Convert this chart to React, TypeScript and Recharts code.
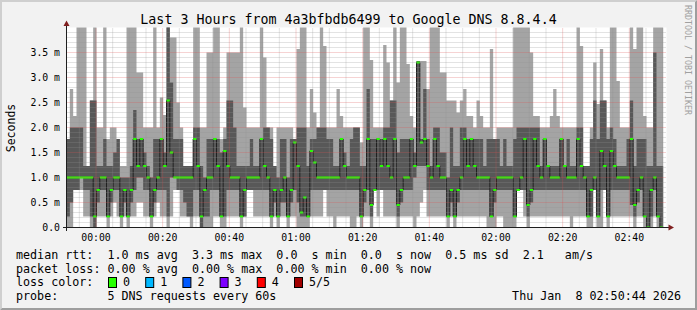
import React from "react";
import {
  ComposedChart,
  Area,
  XAxis,
  YAxis,
  CartesianGrid,
  ReferenceLine,
} from "recharts";

// rtt per 1 minute step, in milliseconds (5 pings sorted: min, 2nd, median, 4th, max)
const medianRtt = [
  1.0, 1.0, 1.0, 1.0, 1.0, 1.0, 1.0, 1.0, 0.22, 0.75, 1.0, 1.0, 0.22, 0.75, 1.0, 1.0, 0.22, 0.75, 0.22, 0.75,
  1.77, 1.23, 1.77, 1.23, 1.0, 0.22, 0.75, 1.0, 1.77, 1.23,
  2.54, 1.5, 1.0, 1.0, 1.0, 1.0, 1.0, 1.0, 1.77, 1.23, 0.22, 0.75, 1.0, 1.0, 1.77, 1.23, 0.22, 1.53, 1.23, 1.0,
  1.0, 1.0, 0.22, 0.75, 1.0, 1.0, 1.0, 1.0, 1.77, 1.23,
  1.0, 0.22, 0.75, 0.22, 0.75, 1.0, 0.22, 0.75, 1.7, 1.23, 0.3, 0.6, 0.22, 1.53, 1.3, 1.0, 1.0, 1.0, 1.0, 1.0,
  1.0, 1.0, 1.77, 1.23, 1.0, 1.0, 1.0, 1.0, 0.22, 0.75,
  1.77, 0.45, 0.75, 1.77, 1.23, 1.77, 1.23, 1.0, 1.77, 0.45, 0.75, 1.0, 1.0, 1.77, 1.23, 3.3, 1.7, 1.77, 1.23, 1.0,
  1.77, 1.23, 1.0, 1.0, 0.22, 0.75, 0.22, 0.75, 1.0, 1.77,
  1.23, 1.77, 1.23, 1.0, 1.0, 1.0, 1.0, 0.22, 0.75, 1.0, 1.0, 1.0, 1.0, 1.0, 0.22, 0.75, 1.0, 1.77, 0.45, 0.75,
  1.77, 1.23, 1.0, 1.77, 1.23, 1.0, 1.0, 1.0, 1.77, 1.23,
  1.0, 1.0, 1.0, 1.77, 1.23, 1.0, 0.22, 0.75, 1.0, 0.22, 1.53, 1.23, 0.22, 1.53, 1.23, 1.0, 1.0, 1.0, 1.0, 1.77,
  0.45, 0.75, 1.0, 0.22, 0.0, 0.75, 1.0, 0.22, 0.0,
];

const pingMin = [
  0, 0, 0.75, 0.75, 0.75, 0.22, 0.22, 0, 0, 0.22, 0.22, 0.22, 0, 0.22, 0.5, 0.22, 0, 0.22, 0, 0.22,
  0.22, 0.5, 0.5, 0.22, 0.22, 0, 0.22, 0.5, 0.22, 0.22,
  0, 0.22, 0.75, 0.75, 0.22, 0.22, 0.22, 0, 0.22, 0.22, 0, 0, 0, 0, 0.22, 0.22, 0, 0, 0.22, 0.22,
  0.22, 0.22, 0, 0.22, 0.75, 0.75, 0.22, 0.22, 0.22, 0.22,
  0.22, 0, 0.22, 0, 0.22, 0.22, 0, 0.22, 0.22, 0, 0, 0, 0, 0.22, 0.22, 0.22, 0.22, 0.75, 0.22, 0.22,
  0, 0.22, 0.22, 0.22, 0.22, 0, 0, 0.22, 0, 0.22,
  0.22, 0, 0.75, 0.22, 0.75, 0.22, 0.22, 0.22, 0.22, 0, 0.22, 0.22, 0.22, 0.22, 0, 0.22, 0.5, 0.75, 0.22, 0.22,
  0.22, 0.22, 0.22, 0.22, 0, 0.22, 0, 0.22, 0.22, 0.22,
  0.22, 0.22, 0.22, 0.22, 0.22, 0.22, 0, 0, 0, 0.22, 0.22, 0, 0, 0, 0, 0.75, 0.75, 0.22, 0, 0.22,
  0.22, 0.22, 0.22, 0.22, 0.22, 0.22, 0.22, 0.22, 0.22, 0.22,
  0.22, 0, 0.22, 0.22, 0.22, 0.22, 0, 0, 0.75, 0, 0, 0.75, 0, 0.22, 0.22, 0.22, 0.22, 0.22, 0.22, 0.22,
  0, 0.22, 0.22, 0, 0, 0, 0.22, 0, 0,
];

const pingLow = [
  0.22, 0.5, 0.75, 0.75, 1.0, 0.75, 0.75, 0.22, 0, 0.5, 0.75, 0.75, 0.22, 0.5, 0.75, 0.75, 0.22, 0.5, 0.22, 0.5,
  0.75, 1.0, 1.0, 0.75, 0.75, 0.22, 0.5, 0.75, 0.75, 0.75,
  0.22, 1.0, 1.0, 0.75, 0.75, 0.5, 0.22, 0.22, 0.75, 0.75, 0, 0.22, 0.22, 0.75, 0.75, 0.75, 0.22, 0.22, 0.75, 0.75,
  0.75, 0.75, 0.22, 0.22, 0.75, 0.75, 0.75, 0.75, 0.75, 0.75,
  0.75, 0.22, 0.5, 0.22, 0.5, 0.5, 0.22, 0.5, 0.75, 0.5, 0.22, 0.22, 0.22, 0.75, 0.75, 0.75, 0.75, 0.75, 0.75, 0.75,
  0.75, 0.75, 0.75, 0.75, 0.75, 0.75, 0.75, 0.75, 0.22, 0.5,
  0.75, 0.22, 0.75, 0.75, 0.75, 0.75, 0.75, 0.75, 0.75, 0.22, 0.5, 0.75, 0.75, 0.75, 1.0, 1.23, 1.23, 1.23, 0.75, 0.75,
  0.75, 0.75, 0.75, 0.75, 0.22, 0.5, 0.22, 0.5, 0.75, 0.75,
  0.75, 0.75, 0.75, 0.75, 0.75, 0.75, 0.75, 0.22, 0.5, 0.75, 0.75, 0.75, 0.75, 0.75, 0.22, 0.75, 0.75, 0.75, 0.22, 0.5,
  0.75, 0.75, 0.75, 0.75, 0.75, 0.75, 0.75, 0.75, 0.75, 0.75,
  0.75, 0.75, 0.75, 0.75, 0.75, 0.75, 0.22, 0.22, 0.75, 0.22, 0.75, 0.75, 0.22, 0.75, 0.75, 0.75, 0.75, 0.75, 0.75, 0.45,
  0.22, 0.5, 0.75, 0.22, 0, 0.22, 0.75, 0.22, 0,
];

const pingHigh = [
  1.77, 2.0, 2.0, 2.0, 2.0, 1.23, 1.23, 2.54, 2.54, 1.23, 1.23, 1.77, 1.23, 1.23, 1.5, 1.77, 1.0, 1.0, 1.0, 1.23,
  2.35, 1.77, 1.77, 1.5, 1.23, 1.0, 1.77, 1.77, 1.77, 1.5,
  4.5, 2.9, 1.77, 1.77, 1.77, 1.23, 1.23, 1.23, 2.0, 2.0, 1.23, 1.0, 1.77, 1.77, 1.77, 1.77, 1.5, 1.77, 2.54, 2.54,
  2.0, 1.23, 1.23, 1.23, 1.23, 1.77, 1.23, 1.23, 1.77, 2.0,
  2.0, 1.77, 1.23, 1.0, 1.77, 1.77, 1.0, 1.77, 1.77, 2.0, 2.0, 2.0, 1.23, 1.77, 1.77, 2.0, 2.0, 2.0, 1.77, 1.77,
  1.23, 1.23, 1.77, 1.5, 1.23, 1.77, 2.0, 2.0, 1.23, 1.23,
  2.77, 1.77, 1.77, 1.77, 1.77, 2.0, 2.0, 2.54, 2.54, 1.5, 1.77, 1.77, 1.77, 1.77, 1.5, 3.33, 1.77, 2.77, 1.77, 1.23,
  2.0, 2.0, 1.5, 1.5, 1.0, 2.0, 1.23, 1.23, 2.0, 2.0,
  1.77, 1.77, 1.77, 1.77, 1.77, 1.23, 1.77, 1.77, 1.77, 1.77, 1.23, 1.77, 1.23, 1.23, 1.77, 2.0, 2.0, 2.0, 2.0, 2.0,
  2.0, 2.0, 1.23, 1.77, 1.23, 1.23, 1.23, 1.23, 1.77, 1.23,
  1.77, 1.23, 1.23, 2.0, 2.0, 1.23, 1.23, 1.77, 2.54, 1.77, 2.54, 2.54, 1.77, 2.0, 1.77, 1.23, 1.23, 1.23, 1.77, 2.54,
  1.23, 1.77, 1.77, 1.77, 1.23, 1.23, 3.5, 1.23, 1.23,
];

const pingMax = [
  1.77, 2.77, 2.23, 4.5, 4.5, 4.5, 1.23, 2.54, 4.5, 2.0, 2.0, 4.5, 1.77, 2.0, 2.0, 1.77, 1.23, 1.23, 4.5, 4.5,
  4.5, 3.1, 3.1, 2.0, 2.0, 2.0, 4.5, 2.0, 2.6, 2.25,
  4.5, 3.8, 3.8, 2.5, 2.0, 1.23, 1.23, 1.23, 4.5, 4.5, 2.0, 2.0, 3.5, 3.5, 4.5, 4.5, 1.77, 2.0, 3.5, 3.5,
  3.5, 3.5, 4.5, 2.4, 2.0, 2.0, 2.0, 2.0, 4.5, 3.4,
  2.0, 2.0, 1.23, 2.0, 2.0, 2.0, 2.0, 2.0, 1.77, 3.57, 4.5, 4.5, 2.0, 2.77, 2.3, 2.0, 4.5, 3.63, 2.0, 2.0,
  2.0, 2.77, 2.23, 2.0, 2.0, 2.0, 2.0, 2.0, 1.7, 4.5,
  4.5, 3.35, 2.0, 2.0, 2.0, 3.65, 3.3, 2.54, 4.5, 2.9, 4.5, 4.5, 3.27, 2.23, 2.0, 3.33, 3.33, 3.33, 2.77, 4.5,
  4.5, 4.5, 3.1, 3.1, 2.54, 2.54, 2.54, 2.3, 2.54, 2.77,
  2.23, 2.23, 2.0, 2.54, 2.23, 2.0, 2.0, 3.57, 1.77, 2.0, 2.0, 2.0, 2.0, 2.0, 4.5, 4.5, 4.5, 4.5, 4.5, 3.5,
  2.23, 2.23, 2.0, 2.0, 2.0, 2.23, 2.77, 2.23, 2.0, 2.0,
  2.0, 2.0, 2.0, 4.5, 3.63, 1.23, 1.23, 2.0, 3.3, 2.47, 3.57, 2.54, 2.0, 4.5, 4.5, 2.93, 2.0, 2.0, 2.0, 4.5,
  3.57, 4.5, 4.5, 2.23, 2.0, 2.0, 4.5, 4.5, 4.5,
];

const timeTicks = [0, 20, 40, 60, 80, 100, 120, 140, 160];
const timeLabels = ["00:00", "00:20", "00:40", "01:00", "01:20", "01:40", "02:00", "02:20", "02:40"];
const rttTicks = [0, 0.5, 1, 1.5, 2, 2.5, 3, 3.5];
const rttLabels = ["0.0", "0.5 m", "1.0 m", "1.5 m", "2.0 m", "2.5 m", "3.0 m", "3.5 m"];

const lossColors = [
  { label: "0", color: "#26ff00" },
  { label: "1", color: "#00b8ff" },
  { label: "2", color: "#0059ff" },
  { label: "3", color: "#7e00ff" },
  { label: "4", color: "#ff0000" },
  { label: "5/5", color: "#a10000" },
];

const legendLines = [
  "median rtt:  1.0 ms avg  3.3 ms max  0.0  s min  0.0  s now  0.5 ms sd  2.1   am/s",
  "packet loss: 0.00 % avg  0.00 % max  0.00 % min  0.00 % now",
  "loss color:",
  "probe:       5 DNS requests every 60s",
];
const stamp = "Thu Jan  8 02:50:44 2026";

// graph starts 8.85 min before 00:00, one rrd step per minute, 180 steps wide
const START = -8.85;
const SPAN = 180;
const MEDIAN_HALF = 0.02; // green median marker, ~1px each side

const rows: any[] = medianRtt.map((m, i) => ({
  t: START + i,
  outer: [pingMin[i], pingMax[i]],
  inner: [pingLow[i], pingHigh[i]],
  median: m,
  band: [m - MEDIAN_HALF, m + MEDIAN_HALF],
}));
// close the last step
rows.push({ ...rows[rows.length - 1], t: START + rows.length });

const minorY: number[] = [];
for (let k = 1; k < 40; k++) if (k % 5 !== 0) minorY.push(k / 10);
const majorY = [0.5, 1, 1.5, 2, 2.5, 3, 3.5];
const minorX: number[] = [];
for (let m = -5; m < START + SPAN; m += 5) if (m % 20 !== 0) minorX.push(m);

const MONO = "DejaVu Sans Mono";
const gridMinor = { stroke: "#8f8f8f", strokeOpacity: 0.5, strokeDasharray: "1 1", strokeWidth: 1 };
const gridMajor = { stroke: "#de4f4f", strokeOpacity: 0.5, strokeDasharray: "1 1", strokeWidth: 1 };

export default function App() {
  return (
    <div
      style={{
        position: "absolute",
        left: 0,
        top: 0,
        width: 697,
        height: 310,
        background: "#f2f2f2",
        fontFamily: MONO,
      }}
    >
      <div style={{ position: "absolute", left: 0, top: 0 }}>
        <ComposedChart
          width={697}
          height={310}
          data={rows}
          margin={{ top: 27.5, right: 30.5, bottom: 52.5, left: 0 }}
        >
          <CartesianGrid horizontal={false} vertical={false} fill="#ffffff" />
          <XAxis
            type="number"
            dataKey="t"
            domain={[START, START + SPAN]}
            allowDataOverflow
            ticks={timeTicks}
            interval={0}
            height={30}
            tickFormatter={(v) => timeLabels[timeTicks.indexOf(v)]}
            axisLine={{ stroke: "#1f1f1f" }}
            tickLine={false}
            tickSize={0}
            tickMargin={6.5}
            tick={{ fill: "#000000", fontSize: 9.8, fontFamily: MONO }}
          />
          <YAxis
            domain={[0, 4]}
            allowDataOverflow
            ticks={rttTicks}
            interval={0}
            tickFormatter={(v) => rttLabels[rttTicks.indexOf(v)]}
            width={66.5}
            axisLine={{ stroke: "#1f1f1f" }}
            tickLine={false}
            tickSize={0}
            tickMargin={6.5}
            tick={{ fill: "#000000", fontSize: 9.8, fontFamily: MONO }}
          />
          <Area
            type="stepAfter"
            dataKey="outer"
            stroke="none"
            fill="#a4a4a4"
            fillOpacity={1}
            dot={false}
            activeDot={false}
            isAnimationActive={false}
          />
          <Area
            type="stepAfter"
            dataKey="inner"
            stroke="none"
            fill="#585858"
            fillOpacity={1}
            dot={false}
            activeDot={false}
            isAnimationActive={false}
          />
          {minorY.map((v) => (
            <ReferenceLine key={"my" + v} y={v} {...gridMinor} />
          ))}
          {minorX.map((v) => (
            <ReferenceLine key={"mx" + v} x={v} {...gridMinor} />
          ))}
          {majorY.map((v) => (
            <ReferenceLine key={"My" + v} y={v} {...gridMajor} />
          ))}
          {timeTicks.map((v) => (
            <ReferenceLine key={"Mx" + v} x={v} {...gridMajor} />
          ))}
          {/* thin dark median line, then the green median marker on top */}
          <Area
            type="stepAfter"
            dataKey="median"
            stroke="#202020"
            strokeWidth={1}
            fill="none"
            dot={false}
            activeDot={false}
            isAnimationActive={false}
          />
          <Area
            type="stepAfter"
            dataKey="band"
            stroke="none"
            fill="#26ff00"
            fillOpacity={1}
            dot={false}
            activeDot={false}
            isAnimationActive={false}
          />
        </ComposedChart>
      </div>

      <svg
        width={697}
        height={310}
        style={{ position: "absolute", left: 0, top: 0, pointerEvents: "none" }}
        fontFamily={MONO}
      >
        {/* 3d frame */}
        <polygon points="0,0 697,0 695,2 2,2 2,308 0,310" fill="#cfcfcf" />
        <polygon points="697,0 697,310 0,310 2,308 695,308 695,2" fill="#9e9e9e" />

        {/* axis extensions and arrows */}
        <line x1={66.5} y1={231} x2={66.5} y2={22} stroke="#1f1f1f" />
        <line x1={63} y1={227.5} x2={670} y2={227.5} stroke="#1f1f1f" />
        <polygon points="63.5,26 69.5,26 66.5,20.5" fill="#801f1f" />
        <polygon points="668.5,224.5 668.5,230.5 674,227.5" fill="#801f1f" />

        <text x={348.5} y={24} textAnchor="middle" fontSize={13.3} fill="#000">
          Last 3 Hours from 4a3bfbdb6499 to Google DNS 8.8.4.4
        </text>
        <text
          x={11}
          y={128}
          textAnchor="middle"
          dominantBaseline="central"
          fontSize={11.5}
          fill="#000"
          transform="rotate(-90 11 128)"
        >
          Seconds
        </text>
        <text
          x={687.5}
          y={5}
          dominantBaseline="central"
          fontSize={8.3}
          fill="#a0a0a0"
          transform="rotate(90 687.5 5)"
        >
          RRDTOOL / TOBI OETIKER
        </text>

        {legendLines.map((s, i) => (
          <text
            key={i}
            x={16}
            y={259 + i * 13.7}
            fontSize={11.7}
            fill="#000"
            style={{ whiteSpace: "pre" }}
          >
            {s}
          </text>
        ))}
        {lossColors.map((c, i) => (
          <g key={c.label}>
            <rect
              x={108.5 + i * 37.2}
              y={277.5}
              width={8}
              height={10}
              fill={c.color}
              stroke="#000"
              strokeWidth={1}
            />
            <text x={123 + i * 37.2} y={286.4} fontSize={11.7} fill="#000">
              {c.label}
            </text>
          </g>
        ))}
        <text
          x={681}
          y={300.1}
          textAnchor="end"
          fontSize={11.7}
          fill="#000"
          style={{ whiteSpace: "pre" }}
        >
          {stamp}
        </text>
      </svg>
    </div>
  );
}
